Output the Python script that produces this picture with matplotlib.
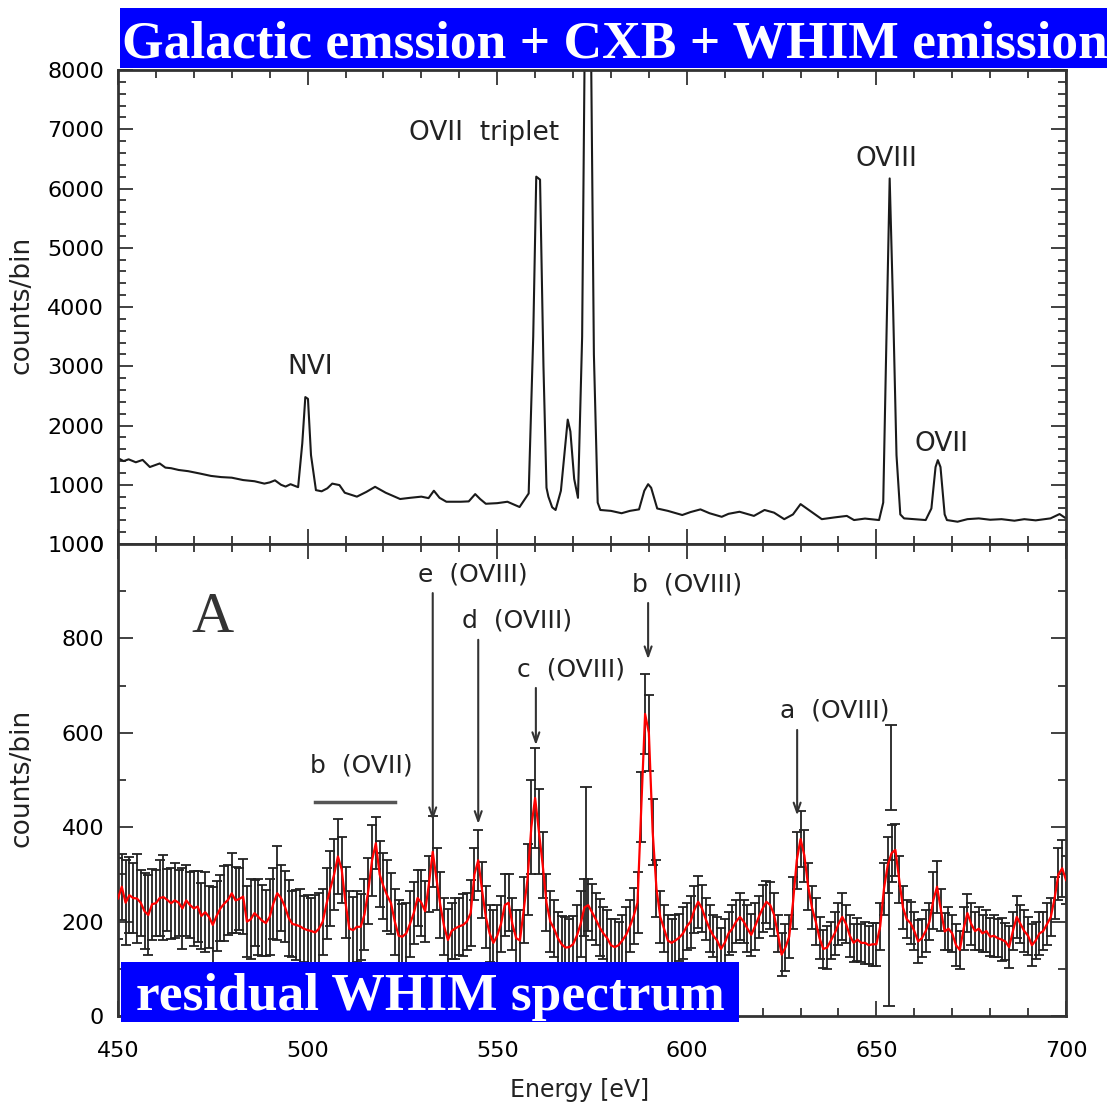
import numpy as np
import matplotlib
matplotlib.use("Agg")
from matplotlib import pyplot as plt
from matplotlib.patches import Rectangle
from matplotlib.ticker import MultipleLocator

# upper panel: total spectrum (eV, counts/bin)
top_energy = [
    450, 451.5, 452.8, 454.7, 456.5, 458.4, 461, 462.5, 464, 466,
    468.5, 471.6, 474.5, 477.2, 480, 483, 486, 488.6, 490, 491.4,
    493, 494.2, 495.5, 497.5, 498.6, 499.4, 500.1, 500.9, 502.2, 503.7,
    505.2, 506.5, 508.4, 509.8, 513, 515.5, 517.8, 520.6, 524.4, 527,
    530, 531.9, 533.3, 534.8, 536.6, 540.4, 542.5, 544.2, 545.5, 547,
    550, 552.7, 555.9, 558.3, 559.5, 560.3, 561.3, 562.2, 563.0, 563.5,
    564.5, 565.4, 566.8, 568.0, 568.6, 569.3, 570.3, 571.3, 572.4, 573.4,
    574.4, 575.5, 576.5, 577.2, 580, 582.8, 585, 587.4, 588.8, 589.8,
    590.6, 592.2, 595, 598.8, 601, 603.6, 606, 609.2, 611, 613.9,
    617.7, 620.5, 623, 625.7, 628, 630, 632.5, 635.6, 639, 642.2,
    644.1, 647, 650.7, 651.8, 652.5, 653.5, 654.4, 655.3, 656.3, 657.3,
    660, 663, 664.5, 665.6, 666.2, 666.9, 668.0, 668.6, 671.4, 674,
    677, 680, 683, 686.4, 689, 692, 695.9, 698.3, 700,
]
top_counts = [
    1450, 1400, 1430, 1380, 1420, 1300, 1360, 1290, 1280, 1250,
    1230, 1190, 1150, 1130, 1120, 1080, 1060, 1020, 1040, 1075,
    1000, 970, 1010, 960, 1700, 2480, 2450, 1500, 910, 890,
    940, 1020, 995, 866, 800, 880, 966, 866, 760, 780,
    800, 775, 900, 780, 714, 714, 720, 843, 760, 680,
    690, 714, 625, 854, 3500, 6200, 6150, 3000, 950, 800,
    620, 575, 900, 1700, 2100, 1900, 1100, 780, 3500, 10800,
    10800, 3200, 700, 575, 560, 520, 560, 585, 900, 1010,
    950, 600, 560, 490, 540, 585, 520, 460, 510, 545,
    475, 575, 530, 420, 500, 674, 560, 420, 450, 475,
    405, 430, 405, 700, 3000, 6170, 4000, 1500, 500, 433,
    420, 405, 600, 1300, 1416, 1300, 500, 405, 377, 420,
    433, 410, 420, 394, 420, 400, 433, 506, 433,
]

# lower panel: residual spectrum, 1 eV bins from 450 to 700 eV
resid_counts = [
    249, 274, 240, 256, 250, 249, 240, 222, 214, 237,
    239, 250, 252, 246, 239, 245, 240, 228, 245, 235,
    228, 232, 212, 220, 210, 193, 212, 228, 238, 246,
    260, 245, 248, 253, 200, 205, 218, 210, 202, 197,
    210, 239, 260, 250, 232, 208, 195, 193, 190, 185,
    182, 180, 177, 185, 200, 238, 270, 300, 338, 310,
    240, 185, 182, 189, 189, 215, 265, 330, 366, 300,
    275, 255, 239, 200, 170, 168, 175, 195, 218, 250,
    240, 222, 280, 348, 290, 235, 190, 161, 180, 186,
    190, 193, 200, 218, 300, 330, 267, 210, 175, 155,
    170, 195, 235, 240, 195, 165, 160, 225, 290, 400,
    462, 390, 320, 240, 200, 185, 165, 152, 145, 146,
    152, 170, 195, 230, 235, 220, 205, 188, 175, 165,
    150, 146, 150, 160, 172, 190, 212, 240, 443, 640,
    600, 390, 270, 210, 185, 160, 155, 160, 166, 175,
    190, 200, 225, 242, 228, 205, 185, 170, 160, 142,
    155, 175, 185, 200, 210, 200, 185, 172, 190, 210,
    228, 242, 235, 215, 175, 130, 145, 168, 240, 330,
    375, 340, 275, 230, 200, 165, 142, 145, 160, 175,
    195, 210, 195, 170, 155, 162, 155, 155, 150, 152,
    152, 190, 270, 320, 345, 352, 290, 230, 205, 197,
    180, 158, 165, 180, 200, 245, 274, 225, 179, 185,
    175, 150, 140, 185, 218, 195, 180, 185, 175, 180,
    168, 170, 165, 162, 158, 146, 180, 210, 195, 180,
    170, 150, 160, 175, 180, 195, 210, 250, 300, 313,
    288,
]
resid_err = [
    85, 70, 90, 80, 75, 95, 70, 80, 85, 75,
    70, 80, 90, 65, 75, 80, 70, 85, 75, 70,
    80, 75, 70, 85, 65, 80, 75, 70, 80, 75,
    85, 70, 65, 80, 75, 85, 70, 80, 75, 70,
    80, 75, 100, 70, 75, 80, 70, 75, 80, 70,
    75, 70, 80, 75, 70, 75, 80, 75, 80, 70,
    75, 80, 70, 75, 70, 75, 70, 75, 55, 70,
    70, 75, 65, 70, 75, 70, 65, 70, 65, 60,
    70, 65, 60, 75, 65, 70, 60, 65, 60, 65,
    60, 65, 60, 70, 55, 65, 60, 65, 60, 70,
    65, 60, 65, 60, 55, 60, 65, 70, 75, 100,
    106, 90, 70, 60, 65, 60, 55, 60, 65, 60,
    60, 65, 70, 60, 55, 60, 55, 60, 55, 60,
    55, 60, 50, 55, 60, 55, 60, 65, 75, 84,
    80, 70, 60, 55, 50, 55, 50, 55, 50, 55,
    50, 55, 50, 55, 50, 45, 50, 45, 50, 45,
    50, 45, 50, 45, 50, 45, 50, 45, 50, 45,
    50, 45, 50, 45, 40, 45, 50, 45, 55, 60,
    60, 55, 50, 45, 50, 45, 40, 45, 40, 45,
    45, 50, 40, 45, 40, 45, 40, 45, 40, 45,
    45, 50, 55, 60, 60, 55, 50, 45, 40, 45,
    40, 45, 40, 45, 40, 60, 55, 45, 40, 45,
    40, 45, 40, 45, 40, 45, 40, 45, 40, 45,
    40, 45, 40, 45, 40, 45, 40, 45, 40, 45,
    40, 45, 40, 45, 40, 45, 40, 45, 55, 60,
    50,
]
resid_energy = np.arange(450, 701)

# oversized error bars where the strong lines were subtracted
big_err_energy = [573.5, 653.2, 653.8]
big_err_center = [235, 176, 527]
big_err_size = [250, 155, 90]

top_labels = [("NVI", 500.8, 2985), ("OVII  triplet", 546.5, 6930),
              ("OVIII", 652.7, 6490), ("OVII", 667.1, 1690)]

# (label, text left eV, text y, arrow eV, arrow start, arrow tip)
line_ids = [
    ("e  (OVIII)", 529.1, 935, 533.0, 902, 409),
    ("d  (OVIII)", 540.7, 839, 545.0, 803, 401),
    ("c  (OVIII)", 555.2, 735, 560.2, 701, 568),
    ("b  (OVIII)", 585.5, 914, 589.8, 881, 750),
    ("a  (OVIII)", 624.6, 648, 629.1, 612, 419),
]

plt.rcParams['font.family'] = ['DejaVu Sans']
fig = plt.figure(figsize=(11.11, 11.04), dpi=100)
ax1 = fig.add_axes([0.1062, 0.5072, 0.8533, 0.4294])
ax2 = fig.add_axes([0.1062, 0.0797, 0.8533, 0.4275])

ax1.plot(top_energy, top_counts, color='#1a1a1a', lw=1.5)
ax1.set_ylim(0, 8000)
ax1.yaxis.set_major_locator(MultipleLocator(1000))
ax1.yaxis.set_minor_locator(MultipleLocator(200))
for txt, x, y in top_labels:
    ax1.text(x, y, txt, ha='center', va='center', fontsize=19, color='#222')

ax2.errorbar(resid_energy, resid_counts, yerr=resid_err, fmt='none',
             ecolor='#222', elinewidth=1.3, capsize=3.5, capthick=1.3, zorder=2)
ax2.errorbar(big_err_energy, big_err_center, yerr=big_err_size, fmt='none',
             ecolor='#222', elinewidth=1.3, capsize=4, capthick=1.3, zorder=2)
ax2.plot(resid_energy, resid_counts, color='red', lw=1.6, zorder=3)
ax2.set_ylim(0, 1000)
ax2.yaxis.set_major_locator(MultipleLocator(200))
ax2.yaxis.set_minor_locator(MultipleLocator(100))

for txt, xl, yl, xa, y0, y1 in line_ids:
    ax2.text(xl, yl, txt, ha='left', va='center', fontsize=18, color='#222')
    ax2.annotate('', xy=(xa, y1), xytext=(xa, y0),
                 arrowprops=dict(arrowstyle='->,head_length=0.7,head_width=0.25',
                                 color='#333', lw=1.5), zorder=4)
ax2.text(500.6, 531, "b  (OVII)", ha='left', va='center', fontsize=18, color='#222')
ax2.plot([502, 523], [453, 453], color='#555', lw=2.5)
ax2.text(474.8, 843, "A", ha='center', va='center', fontsize=42,
         family='Liberation Serif', color='#333')

for ax in (ax1, ax2):
    ax.set_xlim(450, 700)
    ax.xaxis.set_major_locator(MultipleLocator(50))
    ax.xaxis.set_minor_locator(MultipleLocator(10))
    ax.tick_params(which='both', direction='in', top=True, right=True,
                   width=1.3, color='#333', labelsize=16)
    ax.tick_params(which='major', length=11)
    ax.tick_params(which='minor', length=6)
    ax.tick_params(axis='y', pad=10)
    ax.tick_params(axis='x', pad=18)
    for sp in ax.spines.values():
        sp.set_linewidth(2)
        sp.set_color('#333')
    ax.set_ylabel("counts/bin", fontsize=19, color='#222')
    ax.yaxis.set_label_coords(-0.0876, 0.504)
ax1.tick_params(axis='x', labelbottom=False)
ax2.set_xlabel("Energy [eV]", fontsize=17, color='#222')
ax2.xaxis.set_label_coords(0.487, -0.131)

# blue caption boxes
fig.patches.append(Rectangle((0.108, 0.9384), 0.8884, 0.0544, transform=fig.transFigure,
                             facecolor='#0000ff', edgecolor='none', zorder=5))
fig.text(0.1095, 0.9475, "Galactic emssion + CXB + WHIM emission", color='white',
         fontsize=38.5, fontweight='bold', family='Liberation Serif', va='baseline',
         zorder=6)
fig.patches.append(Rectangle((0.1089, 0.0743), 0.5563, 0.0543, transform=fig.transFigure,
                             facecolor='#0000ff', edgecolor='none', zorder=5))
fig.text(0.1224, 0.0851, "residual WHIM spectrum", color='white',
         fontsize=38.5, fontweight='bold', family='Liberation Serif', va='baseline',
         zorder=6)

fig.savefig("out.png", dpi=100)
